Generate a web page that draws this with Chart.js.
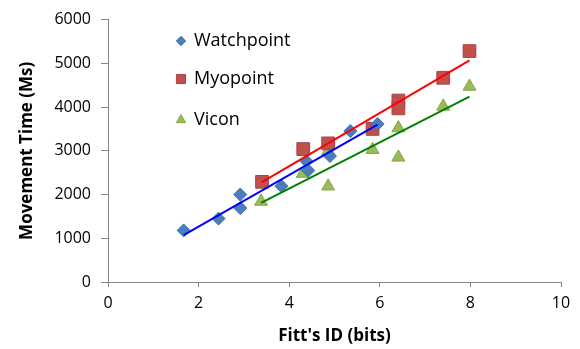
<!DOCTYPE html>
<html>
<head>
<meta charset="utf-8">
<script src="https://cdn.jsdelivr.net/npm/chart.js@4.4.1/dist/chart.umd.min.js"></script>
<style>
  html, body { margin: 0; background: #fff; }
  #wrap { width: 580px; height: 349px; }
</style>
</head>
<body>
<div id="wrap"><canvas id="c"></canvas></div>
<script>
// Fitt's ID (bits) vs movement time (ms)
const watchX = [1.67, 2.44, 2.92, 2.92, 3.83, 4.38, 4.42, 4.90, 5.35, 5.95];
const watchY = [1180, 1450, 2000, 1690, 2190, 2760, 2550, 2880, 3450, 3610];
const myoX = [3.40, 4.31, 4.86, 5.84, 6.41, 6.41, 7.40, 7.98];
const myoY = [2290, 3040, 3170, 3500, 4150, 3970, 4670, 5280];
const viconX = [3.38, 4.30, 4.86, 4.86, 5.84, 6.41, 6.41, 7.40, 7.98];
const viconY = [1840, 2480, 3000, 2190, 3025, 3520, 2850, 4015, 4470];

const FONT = "'Open Sans', 'Noto Sans', sans-serif";

const pts = (xs, ys) => xs.map((x, i) => ({ x, y: ys[i] }));

// linear trendline like Excel: least squares, drawn from min x to max x
function trend(xs, ys) {
  const n = xs.length;
  const mx = xs.reduce((a, b) => a + b, 0) / n;
  const my = ys.reduce((a, b) => a + b, 0) / n;
  let sxy = 0, sxx = 0;
  xs.forEach((x, i) => { sxy += (x - mx) * (ys[i] - my); sxx += (x - mx) ** 2; });
  const b = sxy / sxx, a = my - b * mx;
  const lo = Math.min(...xs), hi = Math.max(...xs);
  return [{ x: lo, y: a + b * lo }, { x: hi, y: a + b * hi }];
}

function series(label, xs, ys, color, edge, style, radius) {
  return {
    type: "scatter", label, data: pts(xs, ys), order: 2,
    pointStyle: style, pointRadius: radius, pointHoverRadius: radius,
    backgroundColor: color, borderColor: edge, borderWidth: 1,
  };
}

function line(xs, ys, color) {
  return {
    type: "line", label: "", data: trend(xs, ys), order: 1, trend: true,
    borderColor: color, borderWidth: 2, pointRadius: 0, fill: false,
  };
}

// legend drawn inside the plot, top-left, stacked
const innerLegend = {
  id: "innerLegend",
  afterDraw(chart) {
    const ctx = chart.ctx;
    const rows = [41, 79, 120];
    let k = 0;
    chart.data.datasets.forEach((ds) => {
      if (ds.trend) return;
      const y = rows[k++];
      ctx.save();
      ctx.fillStyle = ds.backgroundColor;
      ctx.strokeStyle = ds.borderColor;
      ctx.lineWidth = 1;
      Chart.helpers.drawPoint(ctx, { pointStyle: ds.pointStyle, radius: ds.pointRadius * 0.72, borderWidth: 1 }, 181, y);
      ctx.fillStyle = "#000";
      ctx.font = "18px " + FONT;
      ctx.textBaseline = "middle";
      ctx.fillText(ds.label, 194, y);
      ctx.restore();
    });
  },
};

new Chart(document.getElementById("c"), {
  data: {
    datasets: [
      series("Watchpoint", watchX, watchY, "#4A7EBB", "#3E6DA6", "rectRot", 6.5),
      series("Myopoint", myoX, myoY, "#C0504D", "#A94441", "rect", 9),
      series("Vicon", viconX, viconY, "#9BBB59", "#86A64A", "triangle", 7.5),
      line(watchX, watchY, "#0000FF"),
      line(myoX, myoY, "#FF0000"),
      line(viconX, viconY, "#008000"),
    ],
  },
  options: {
    responsive: true, maintainAspectRatio: false, animation: false,
    layout: { padding: { top: 19, right: 19, left: 0, bottom: 0 } },
    plugins: { legend: { display: false }, tooltip: { enabled: false } },
    scales: {
      x: {
        type: "linear", min: 0, max: 10,
        afterFit: (s) => { s.height = 67; },
        ticks: { stepSize: 2, color: "#000", padding: 7, font: { family: FONT, size: 16 },
          callback: (v) => String(v) },
        grid: { drawOnChartArea: false, drawTicks: true, tickLength: 5, color: "#868686" },
        border: { color: "#868686", width: 1 },
        title: { display: true, text: "Fitt's ID (bits)", color: "#000", padding: { top: 0, bottom: 3 },
          font: { family: FONT, size: 17, weight: "bold" } },
      },
      y: {
        type: "linear", min: 0, max: 6000,
        afterFit: (s) => { s.width = 108; },
        ticks: { stepSize: 1000, color: "#000", padding: 10, font: { family: FONT, size: 16 },
          callback: (v) => String(v) },
        grid: { drawOnChartArea: false, drawTicks: true, tickLength: 7, color: "#868686" },
        border: { color: "#868686", width: 1 },
        title: { display: true, text: "Movement Time (Ms)", color: "#000", padding: { top: 17, bottom: 0 },
          font: { family: FONT, size: 17, weight: "bold" } },
      },
    },
  },
  plugins: [innerLegend],
});
</script>
</body>
</html>
